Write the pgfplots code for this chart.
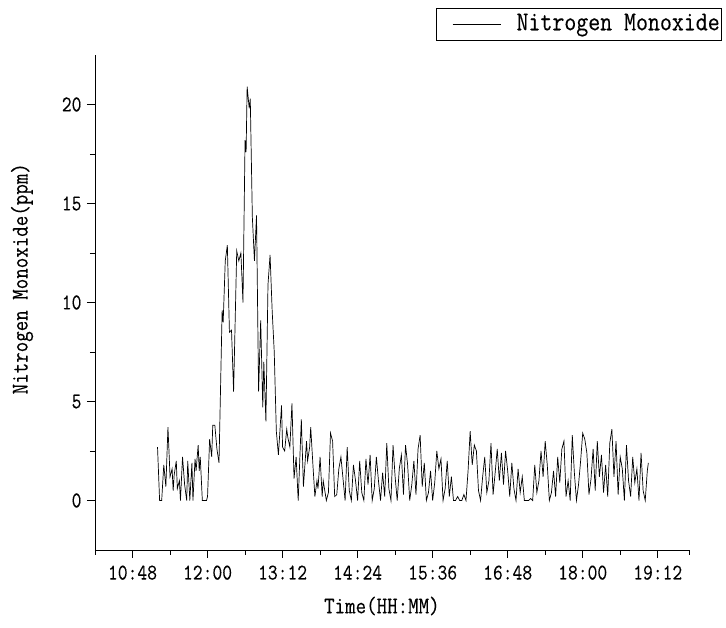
\documentclass[border=0pt]{standalone}
\usepackage{pgfplots}
\pgfplotsset{compat=1.18}
\usepackage{fontspec}
\setmainfont{Latin Modern Mono}[FakeStretch=0.85, FakeBold=0.25]

\pgfplotstableread{
t v
672 2.7
674 0
676 0
678 1.8
680 0.7
682 3.7
683 2.5
684 1.2
686 1.6
687 0.5
688 1.3
690 2.0
691 0.6
693 1.0
694 0
696 2.2
698 0.8
699 0.4
700 0
701 2.0
703 0
705 1.9
706 0
708 2.1
709 1.5
711 2.8
712 1.5
713 2.2
715 0
717 0
719 0
720 0.2
722 3.1
724 2.2
725 3.8
727 3.8
729 2.6
731 1.9
734 9.6
735 9.0
737 12.1
739 12.9
741 8.5
743 8.6
745 5.5
748 12.6
750 12.1
752 12.5
754 10.0
756 18.2
757 17.6
758 20.9
760 19.8
761 20.3
763 14.3
765 12.1
767 14.4
769 5.5
771 9.1
773 4.7
774 7.0
776 4.0
778 10.9
780 12.4
782 9.6
784 7.5
786 3.5
788 2.3
791 4.8
792 2.7
794 2.5
796 3.6
797 3.2
799 2.7
801 4.9
803 1.1
805 2.2
807 0
810 4.1
812 0.7
815 3.0
816 2.0
818 2.7
819 3.7
821 1.9
823 0.2
825 1.0
826 0.6
828 2.2
830 0.2
831 1.0
834 0
836 0.4
838 3.4
840 3.0
842 0.2
844 0.3
846 1.6
848 2.2
850 1.1
852 0
854 2.7
856 0.5
858 0
860 1.8
862 1.0
864 0
866 2.0
868 0.4
870 0
872 2.1
874 0.8
876 2.3
878 0
880 0.6
882 2.2
884 1.0
886 0
888 1.4
890 0.2
892 2.9
894 0.6
896 0
898 2.8
900 1.2
902 0
904 1.6
906 2.3
908 0.3
910 2.8
912 1.8
914 0
916 0.8
918 2.0
920 0.3
922 2.6
924 3.3
926 0.7
928 1.9
930 0
932 0.4
934 1.5
936 0
938 0.9
940 2.5
942 1.6
944 2.1
946 0
948 0.6
950 2.0
952 0.2
954 1.2
956 0
958 0
960 0.2
962 0
964 0
966 0.3
968 0
970 1.5
972 3.5
974 1.8
976 2.8
978 2.5
980 0.5
982 0
984 1.2
986 2.2
988 0.4
990 1.0
992 2.9
994 0.3
996 1.4
998 2.6
1000 1.0
1002 2.4
1004 0.8
1006 2.5
1008 1.5
1010 0.2
1012 1.9
1014 0.6
1016 0
1018 1.6
1020 0.4
1022 1.2
1024 0
1026 0
1028 0
1030 0.1
1032 0
1034 1.8
1036 0.4
1038 1.0
1040 2.5
1042 1.2
1044 3.0
1046 1.8
1048 0
1050 0.4
1052 1.5
1054 0.2
1056 2.2
1058 0.9
1060 2.6
1062 3.0
1064 0.2
1066 1.0
1068 0
1070 3.3
1072 1.4
1074 0
1076 0.8
1078 2.0
1080 3.4
1082 3.1
1084 2.4
1086 0.3
1088 1.1
1090 2.6
1092 0.5
1094 3.0
1096 1.2
1098 2.3
1100 0.4
1102 1.8
1104 0.2
1106 2.9
1108 3.6
1110 1.2
1112 3.0
1114 0.3
1116 2.2
1118 1.6
1120 0
1122 2.8
1124 1.0
1126 0.2
1128 2.2
1130 0.9
1132 1.6
1134 0
1136 2.4
1138 0.5
1140 0
1142 1.5
1143 1.9
}\nodata

\begin{document}
\begin{tikzpicture}
\useasboundingbox (-95pt,-78pt) rectangle (631pt,550pt);
\begin{axis}[
    at={(0pt,0pt)}, anchor=south west,
    scale only axis,
    width=594pt, height=495pt,
    xmin=612, xmax=1182,
    ymin=-2.5, ymax=22.5,
    axis lines=left,
    axis line style={-, line width=0.8pt},
    tick align=outside,
    tick style={black, line width=0.8pt},
    major tick length=8pt,
    minor tick length=5pt,
    xtick={648,720,792,864,936,1008,1080,1152},
    xticklabels={10:48,12:00,13:12,14:24,15:36,16:48,18:00,19:12},
    minor xtick={612,684,756,828,900,972,1044,1116,1182},
    ytick={0,5,10,15,20},
    yticklabels={0,5,10,15,20},
    minor y tick num=1,
    tick label style={font=\fontsize{22.4}{22.4}\selectfont},
    xticklabel style={yshift=-4pt},
    yticklabel style={xshift=-2pt},
    xlabel={Time(HH:MM)},
    ylabel={Nitrogen Monoxide(ppm)},
    label style={font=\fontsize{24}{24}\selectfont},
    xlabel style={at={(axis description cs:0.483,0)}, anchor=center, yshift=-56pt},
    ylabel style={at={(axis description cs:0,0.548)}, anchor=center, yshift=73pt},
    legend style={at={(axis description cs:1.0556,1.095)}, anchor=north east,
        draw=black, line width=0.6pt, font=\fontsize{27.3}{27.3}\selectfont,
        inner xsep=2pt, inner ysep=4pt,
        nodes={inner sep=0pt, text height=18pt, text depth=6pt}},
    legend image code/.code={
        \path[draw=none] (0pt,0pt) -- (78pt,0pt);
        \draw[black, line width=0.6pt] (14pt,0pt) -- (62pt,0pt);},
    legend cell align=left,
]
\addplot[black, line width=0.7pt, mark=none] table[x=t, y=v] {\nodata};
\addlegendentry{Nitrogen Monoxide}
\end{axis}
\end{tikzpicture}
\end{document}
